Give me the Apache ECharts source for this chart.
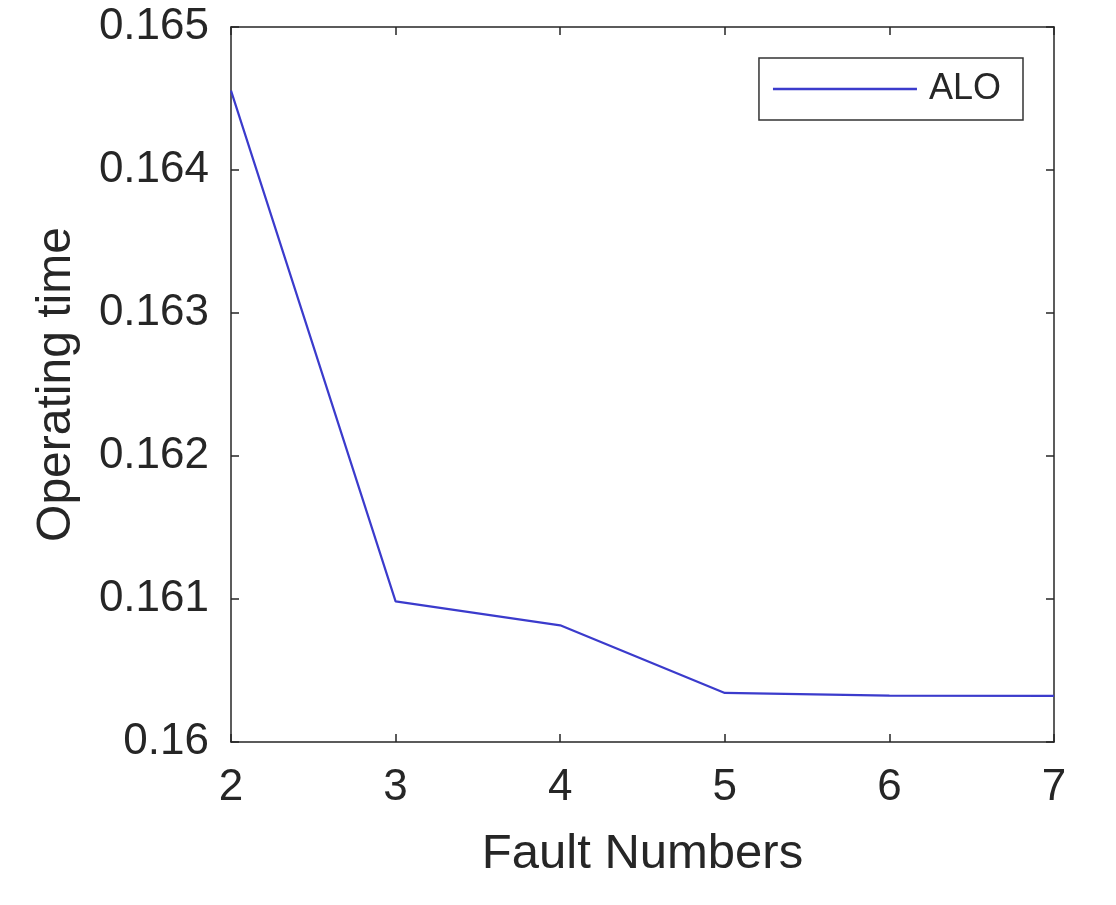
<!DOCTYPE html>
<html>
<head>
<meta charset="utf-8">
<script src="https://cdn.jsdelivr.net/npm/echarts@6/dist/echarts.min.js"></script>
<style>
  html, body { margin: 0; padding: 0; background: #ffffff; }
  #chart { width: 1116px; height: 905px; }
</style>
</head>
<body>
<div id="chart"></div>
<script>
// data
var faultNumbers = [2, 3, 4, 5, 6, 7];
var aloTime = [0.164555, 0.160984, 0.160816, 0.160343, 0.160324, 0.160322];
var yTicks = { min: 0.16, max: 0.165, step: 0.001 };

var axisColor = '#262626';
var fontFam = '"Liberation Sans", Arial, sans-serif';

var points = faultNumbers.map(function (x, i) { return [x, aloTime[i]]; });

var myChart = echarts.init(document.getElementById('chart'));

var option = {
    backgroundColor: '#ffffff',
    animation: false,
    grid: {
        left: 231,
        right: 62,
        top: 27,
        bottom: 163
    },
    legend: {
        right: 93,
        top: 58,
        padding: [13, 22, 13, 14],
        borderColor: '#333333',
        borderWidth: 1.5,
        icon: 'rect',
        itemWidth: 144,
        itemHeight: 2.5,
        textStyle: {
            fontFamily: fontFam,
            fontSize: 36,
            color: axisColor,
            padding: [0, 0, 0, 7]
        },
        data: ['ALO']
    },
    xAxis: [{
        type: 'value',
        min: 2,
        max: 7,
        interval: 1,
        name: 'Fault Numbers',
        nameLocation: 'middle',
        nameGap: 88,
        nameTextStyle: { fontFamily: fontFam, fontSize: 49, color: axisColor },
        axisLine: { show: true, lineStyle: { color: axisColor, width: 1.5 } },
        axisTick: { show: true, inside: true, length: 8, lineStyle: { color: axisColor, width: 1.5 } },
        axisLabel: { margin: 24, fontFamily: fontFam, fontSize: 44, color: axisColor },
        splitLine: { show: false }
    }, {
        type: 'value',
        position: 'top',
        min: 2,
        max: 7,
        interval: 1,
        axisLine: { show: true, lineStyle: { color: axisColor, width: 1.5 } },
        axisTick: { show: true, inside: true, length: 8, lineStyle: { color: axisColor, width: 1.5 } },
        axisLabel: { show: false },
        splitLine: { show: false }
    }],
    yAxis: [{
        type: 'value',
        min: yTicks.min,
        max: yTicks.max,
        interval: yTicks.step,
        name: 'Operating time',
        nameLocation: 'middle',
        nameGap: 150,
        nameTextStyle: { fontFamily: fontFam, fontSize: 48, color: axisColor },
        axisLine: { show: true, lineStyle: { color: axisColor, width: 1.5 } },
        axisTick: { show: true, inside: true, length: 8, lineStyle: { color: axisColor, width: 1.5 } },
        axisLabel: { margin: 22, fontFamily: fontFam, fontSize: 44, color: axisColor },
        splitLine: { show: false }
    }, {
        type: 'value',
        position: 'right',
        min: yTicks.min,
        max: yTicks.max,
        interval: yTicks.step,
        axisLine: { show: true, lineStyle: { color: axisColor, width: 1.5 } },
        axisTick: { show: true, inside: true, length: 8, lineStyle: { color: axisColor, width: 1.5 } },
        axisLabel: { show: false },
        splitLine: { show: false }
    }],
    series: [{
        name: 'ALO',
        type: 'line',
        xAxisIndex: 0,
        yAxisIndex: 0,
        data: points,
        symbol: 'none',
        lineStyle: { color: '#3b3bcc', width: 2.2 },
        itemStyle: { color: '#3b3bcc' }
    }]
};

myChart.setOption(option);
window.addEventListener('resize', function () {
    myChart.resize();
});
</script>
</body>
</html>
